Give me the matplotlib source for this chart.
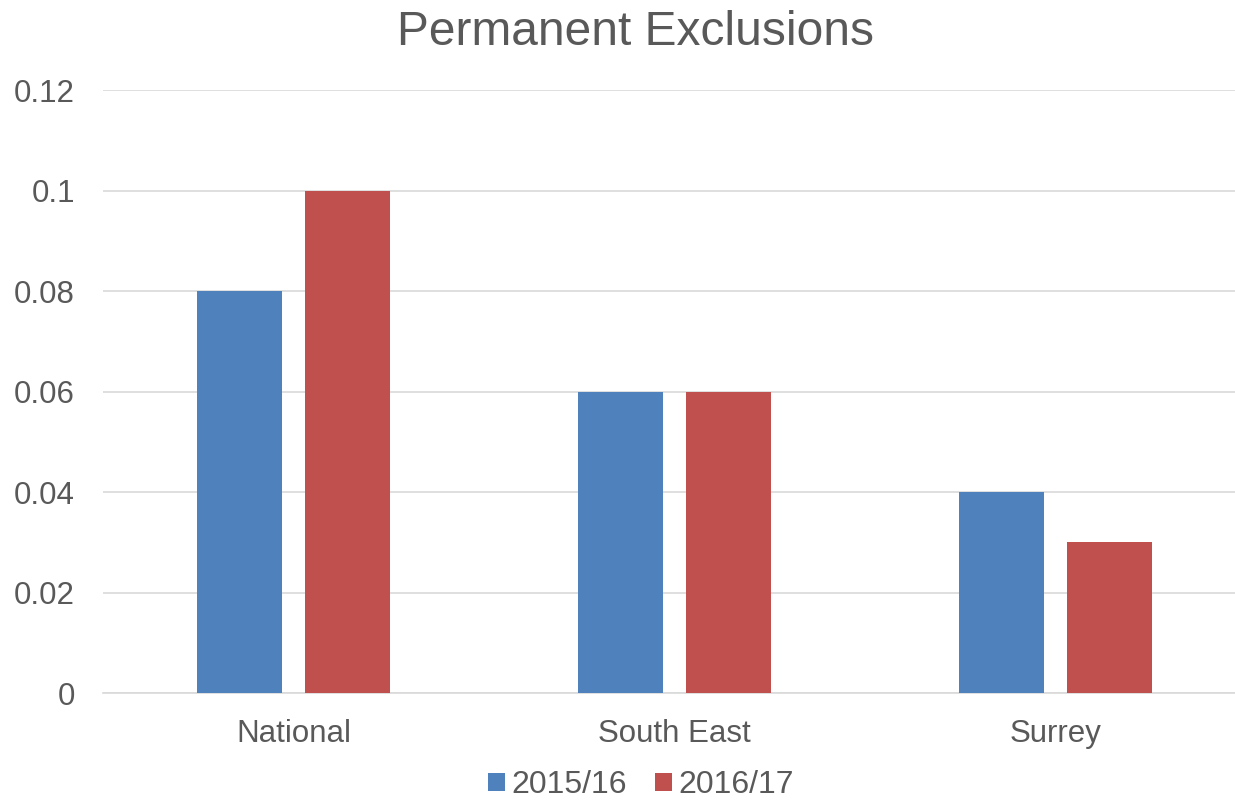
import numpy as np
import matplotlib
matplotlib.use("Agg")
import matplotlib.pyplot as plt

plt.rcParams['font.family'] = ['Liberation Sans', 'DejaVu Sans']

# data
regions = ["National", "South East", "Surrey"]
years = ["2015/16", "2016/17"]
rate_2015 = [0.08, 0.06, 0.04]
rate_2016 = [0.10, 0.06, 0.03]
colors = ["#4F81BD", "#C0504D"]
text_col = "#595959"

fig = plt.figure(figsize=(12.35, 8.05), dpi=100)
# axes runs a bit past the right edge like the original
ax = fig.add_axes([0.0833, 0.139, 0.926, 0.749])

x = np.arange(len(regions))
w = 0.223
off = 0.1416
ax.bar(x - off, rate_2015, w, color=colors[0], label=years[0], zorder=3)
ax.bar(x + off, rate_2016, w, color=colors[1], label=years[1], zorder=3)

ax.set_xlim(-0.5, len(regions) - 0.5)
ax.set_ylim(0, 0.12)
ax.set_yticks([0, 0.02, 0.04, 0.06, 0.08, 0.1, 0.12])
ax.set_yticklabels(["0", "0.02", "0.04", "0.06", "0.08", "0.1", "0.12"])
ax.set_xticks(x)
ax.set_xticklabels(regions)

ax.grid(axis='y', color='#D9D9D9', linewidth=1.2, zorder=0)
for s in ['top', 'right', 'left']:
    ax.spines[s].set_visible(False)
ax.spines['bottom'].set_color('#D9D9D9')
ax.spines['bottom'].set_linewidth(1.2)
ax.tick_params(axis='both', length=0, labelcolor=text_col, labelsize=22.5)
ax.tick_params(axis='y', pad=20)
ax.tick_params(axis='x', pad=18.5)

fig.text(0.5145, 0.96, "Permanent Exclusions", ha='center', va='center',
         fontsize=34.5, color=text_col)

fig.legend(*ax.get_legend_handles_labels(), loc='lower center',
           bbox_to_anchor=(641 / 1235, -0.014), ncol=2, frameon=False,
           fontsize=23, labelcolor=text_col, handlelength=0.53, handleheight=0.53,
           handletextpad=0.22, columnspacing=0.87, borderpad=0)

fig.savefig("out.png", dpi=100)
